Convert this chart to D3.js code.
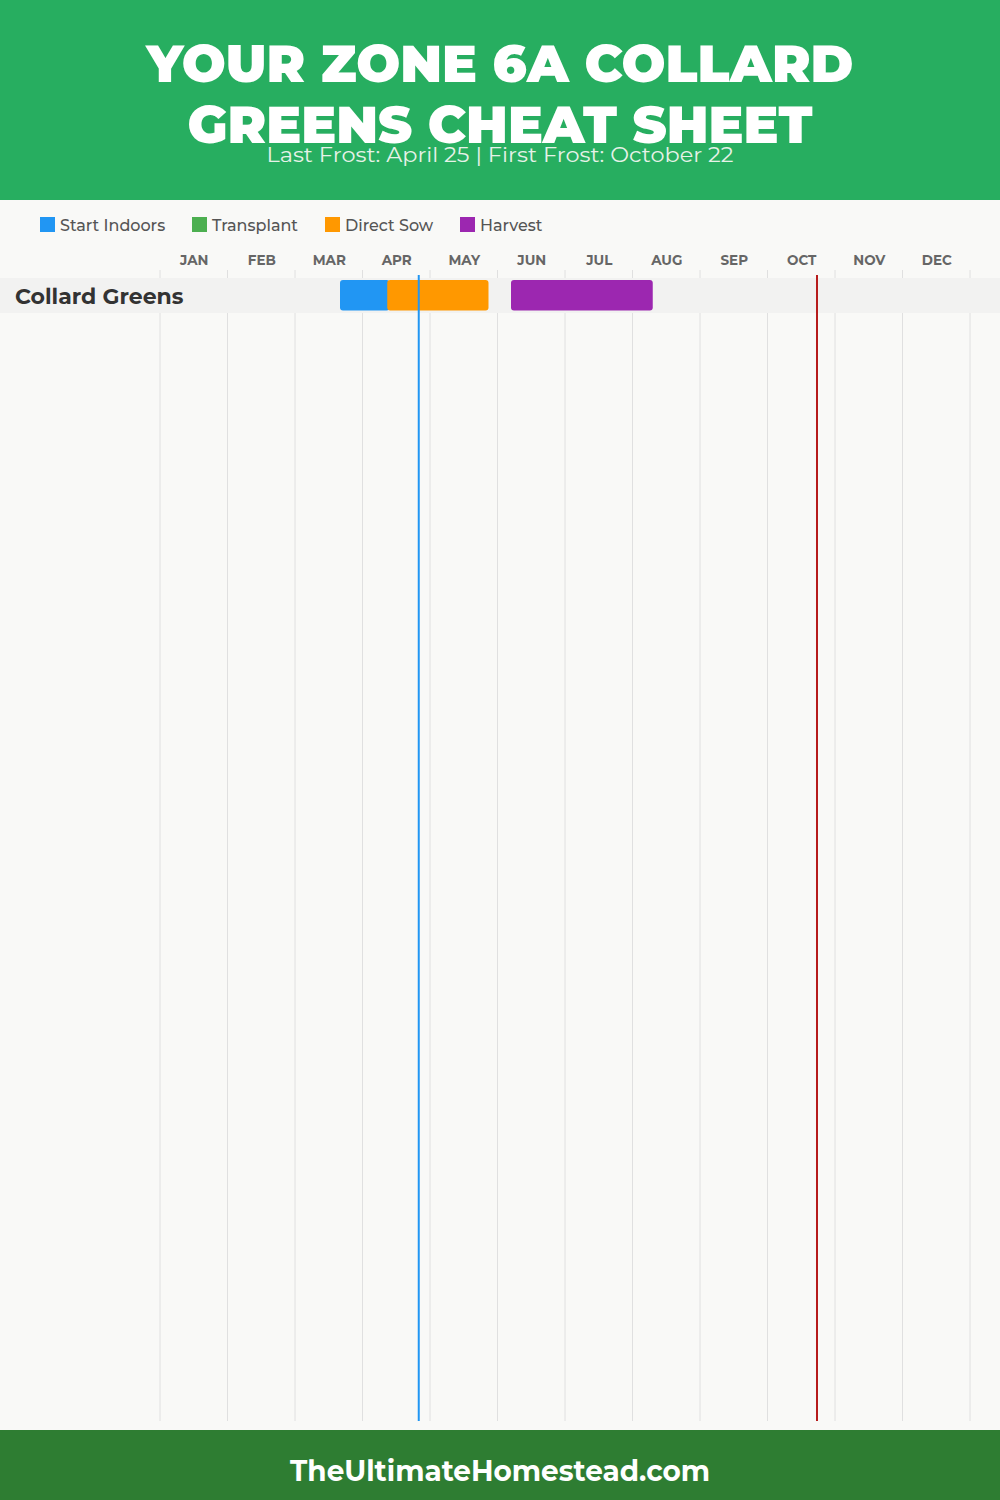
<!DOCTYPE html>
<html><head><meta charset="utf-8">
<script src="https://cdn.jsdelivr.net/npm/d3@7"></script>
<style>
html,body{margin:0;padding:0;background:#f9f9f7;}
svg{display:block;}
text{font-family:Montserrat,Inter,"DejaVu Sans",sans-serif;}
</style></head>
<body>
<svg id="chart" width="1000" height="1500"></svg>
<script>
// ---- data ----
const titleLines = ["YOUR ZONE 6A COLLARD", "GREENS CHEAT SHEET"];
const subtitle = "Last Frost: April 25 | First Frost: October 22";
const footerText = "TheUltimateHomestead.com";
const months = ["JAN","FEB","MAR","APR","MAY","JUN","JUL","AUG","SEP","OCT","NOV","DEC"];
const crops = ["Collard Greens"];
const seriesNames = ["Start Indoors","Transplant","Direct Sow","Harvest"];
const seriesColors = ["#2196f3","#4caf50","#ff9800","#9c27b0"];
// periods as [crop, from "MM-DD", to "MM-DD"]
const startIndoors = [["Collard Greens","03-20","04-12"]];
const transplant = [];
const directSow = [["Collard Greens","04-11","05-26"]];
const harvest = [["Collard Greens","06-06","08-09"]];
const frostDates = ["04-25","10-22"];
const frostColors = ["#2196f3","#b71c1c"];

// ---- drawing ----
const svg = d3.select("#chart");
const W = 1000, H = 1500;
const toVal = s => { const [m,d] = s.split("-").map(Number); return (m-1) + d/30; };
const x = d3.scaleLinear().domain([0,12]).range([160,970]);
const rowTop = 278, rowH = 35;
const y = d3.scaleBand().domain(crops).range([rowTop, rowTop + rowH*crops.length]);

svg.append("rect").attr("x",0).attr("y",0).attr("width",W).attr("height",H).attr("fill","#f9f9f7");
// header
svg.append("rect").attr("x",0).attr("y",0).attr("width",W).attr("height",200).attr("fill","#27ae60");
const tWidths = [707, 625];
titleLines.forEach((t,i)=>{
  svg.append("text").attr("x",W/2).attr("y",82 + i*61).attr("text-anchor","middle")
    .attr("fill","#fff").attr("font-size",52).attr("font-weight",900)
    .attr("textLength",tWidths[i]).attr("lengthAdjust","spacingAndGlyphs").text(t);
});
svg.append("text").attr("x",W/2).attr("y",162).attr("text-anchor","middle")
  .attr("fill","#e6f2e8").attr("font-size",21).attr("font-weight",400)
  .attr("textLength",467).attr("lengthAdjust","spacingAndGlyphs").text(subtitle);

// legend
const legX = [40,192,325,460];
const leg = svg.append("g");
seriesNames.forEach((n,i)=>{
  leg.append("rect").attr("x",legX[i]).attr("y",217).attr("width",15).attr("height",15).attr("fill",seriesColors[i]);
  leg.append("text").attr("x",legX[i]+20).attr("y",231).attr("font-size",16).attr("font-weight",500).attr("fill","#555").text(n);
});

// month labels
const axis = d3.axisTop(x).tickValues(d3.range(12).map(i=>i+0.5)).tickFormat((d,i)=>months[i]).tickSize(0);
const ag = svg.append("g").attr("transform","translate(0,265)").call(axis);
ag.select(".domain").remove();
ag.selectAll("text").attr("font-size",13.5).attr("font-weight",700).attr("fill","#666")
  .attr("font-family",'Montserrat,Inter,"DejaVu Sans",sans-serif').attr("y",0).attr("dy",0);

// grid lines
svg.append("g").selectAll("line").data(d3.range(13)).join("line")
  .attr("x1",d=>x(d)).attr("x2",d=>x(d)).attr("y1",270).attr("y2",1421)
  .attr("stroke","#e0e0e0").attr("stroke-width",1);

// row bands
svg.append("g").selectAll("rect").data(crops).join("rect")
  .attr("x",0).attr("y",d=>y(d)).attr("width",W).attr("height",y.bandwidth()).attr("fill","#f2f2f1");
svg.append("g").selectAll("text").data(crops).join("text")
  .attr("x",15).attr("y",d=>y(d)+y.bandwidth()/2+8).attr("font-size",22).attr("font-weight",700)
  .attr("fill","#333").text(d=>d);

// bars
const series = [startIndoors, transplant, directSow, harvest];
series.forEach((s,i)=>{
  svg.append("g").selectAll("rect").data(s).join("rect")
    .attr("x",d=>x(toVal(d[1]))).attr("width",d=>x(toVal(d[2]))-x(toVal(d[1])))
    .attr("y",d=>y(d[0])+2).attr("height",y.bandwidth()-4.5).attr("rx",3)
    .attr("fill",seriesColors[i]);
});

// frost lines
svg.append("g").selectAll("line").data(frostDates).join("line")
  .attr("x1",d=>x(toVal(d))).attr("x2",d=>x(toVal(d))).attr("y1",275).attr("y2",1421)
  .attr("stroke",(d,i)=>frostColors[i]).attr("stroke-width",2);

// footer
svg.append("rect").attr("x",0).attr("y",1430).attr("width",W).attr("height",70).attr("fill","#2e7d32");
svg.append("text").attr("x",W/2).attr("y",1481).attr("text-anchor","middle").attr("fill","#fff")
  .attr("font-size",29).attr("font-weight",700).attr("textLength",420).attr("lengthAdjust","spacingAndGlyphs").text(footerText);
</script>
</body></html>
